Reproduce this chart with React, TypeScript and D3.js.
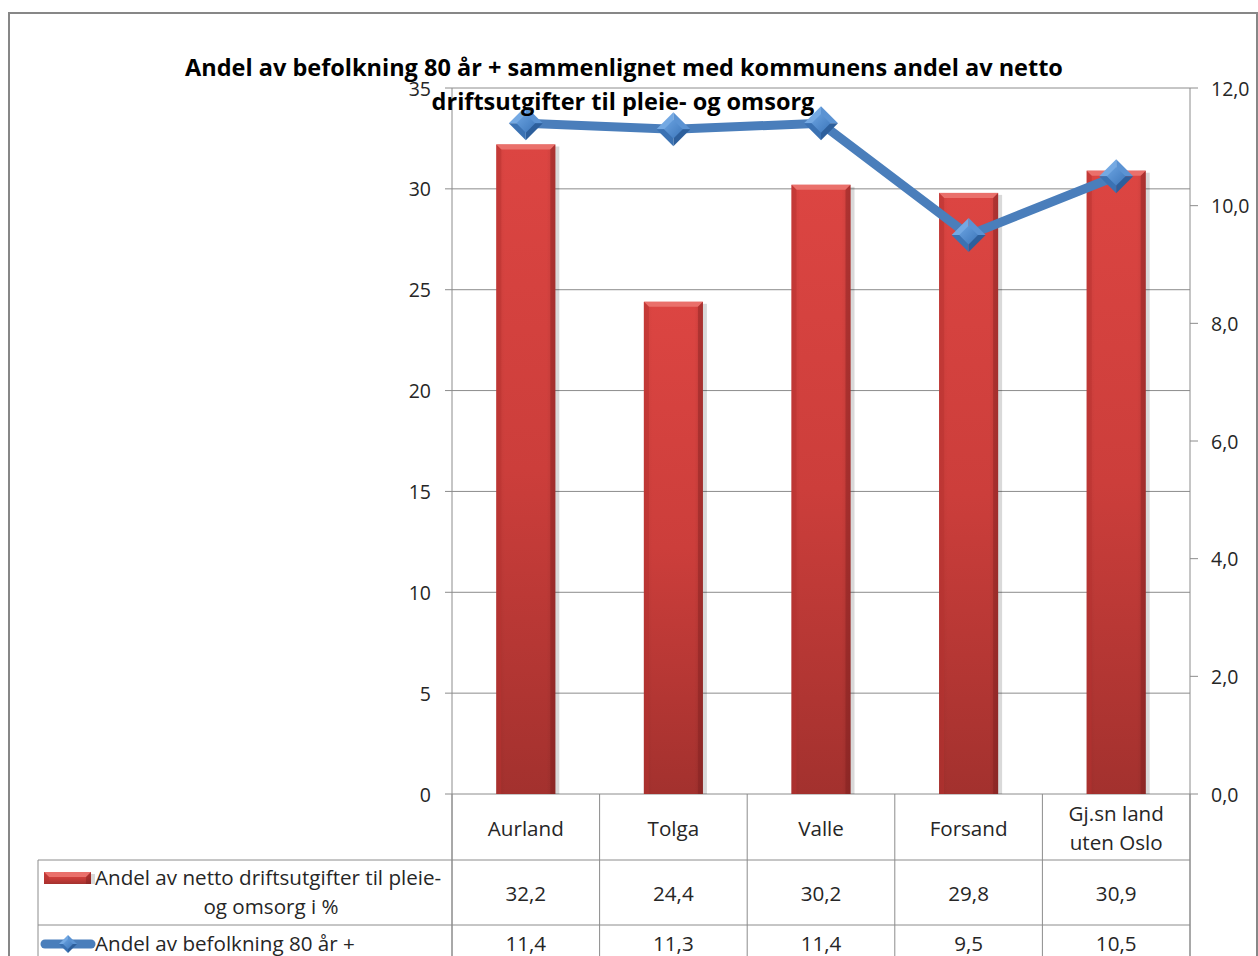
import React from "react";
import * as d3 from "d3";

const categories: string[][] = [["Aurland"], ["Tolga"], ["Valle"], ["Forsand"], ["Gj.sn land", "uten Oslo"]];
const expenseShare: number[] = [32.2, 24.4, 30.2, 29.8, 30.9];
const elderlyShare: number[] = [11.4, 11.3, 11.4, 9.5, 10.5];
const leftTicks: number[] = [0, 5, 10, 15, 20, 25, 30, 35];
const rightTicks: number[] = [0, 2, 4, 6, 8, 10, 12];
const titleLines: string[] = [
  "Andel av befolkning 80 år + sammenlignet med kommunens andel av netto",
  "driftsutgifter til pleie- og omsorg",
];
const seriesBarLabel: string[] = ["Andel av netto driftsutgifter til pleie-", "og omsorg i %"];
const seriesLineLabel = "Andel av befolkning 80 år +";

const W = 1258;
const H = 956;
const plot = { left: 452, right: 1190, top: 88, bottom: 794 };
const FONT = "'Open Sans', Lato, sans-serif";
const FS_AX = 19.5;
const FS = 20.6;
const GRID = "#8c8c8c";
const TXT = "#262626";
const fmt1 = (v: number) => d3.format(".1f")(v).replace(".", ",");

export default function App() {
  const x = d3
    .scaleBand<number>()
    .domain(d3.range(categories.length))
    .range([plot.left, plot.right])
    .paddingInner(0)
    .paddingOuter(0);
  const yL = d3.scaleLinear().domain([0, 35]).range([plot.bottom, plot.top]);
  const yR = d3.scaleLinear().domain([0, 12]).range([plot.bottom, plot.top]);
  const bw = x.bandwidth();
  const barW = bw * 0.4;
  const cx = (i: number) => (x(i) as number) + bw / 2;

  const line = d3
    .line<number>()
    .x((_, i) => cx(i))
    .y((d) => yR(d));

  const row1 = 860;
  const row2 = 925;
  const tableLeft = 38;

  const diamond = (px: number, py: number, r: number, key: string) => {
    const t = [px, py - r];
    const rt = [px + r, py];
    const b = [px, py + r];
    const l = [px - r, py];
    const c = [px, py];
    const tri = (a: number[], bb: number[], fill: string, k: string) => (
      <polygon key={k} points={`${a[0]},${a[1]} ${bb[0]},${bb[1]} ${c[0]},${c[1]}`} fill={fill} />
    );
    const ir = r * 0.55;
    return (
      <g key={key}>
        {tri(l, t, "#74a9e3", "a")}
        {tri(t, rt, "#5b93d3", "b")}
        {tri(rt, b, "#2d5f9c", "c")}
        {tri(b, l, "#3b72b3", "d")}
        <polygon
          points={`${px},${py - ir} ${px + ir},${py} ${px},${py + ir} ${px - ir},${py}`}
          fill="url(#diaGrad)"
        />
      </g>
    );
  };

  const bar = (bx: number, by: number, w: number, h: number, key: string) => {
    const bev = Math.min(5, h / 2);
    return (
      <g key={key}>
        <rect x={bx + 2} y={by + 2} width={w + 2} height={h - 2} fill="#000" opacity={0.15} />
        <rect x={bx} y={by} width={w} height={h} fill="url(#barGrad)" />
        <rect x={bx} y={by} width={w} height={h} fill="url(#barSide)" />
        <polygon
          points={`${bx},${by} ${bx + w},${by} ${bx + w - bev},${by + bev} ${bx + bev},${by + bev}`}
          fill="#ea706b"
        />
        <polygon
          points={`${bx},${by} ${bx + bev},${by + bev} ${bx + bev},${by + h} ${bx},${by + h}`}
          fill="#b8322f"
          opacity={0.5}
        />
        <polygon
          points={`${bx + w},${by} ${bx + w - bev},${by + bev} ${bx + w - bev},${by + h} ${bx + w},${by + h}`}
          fill="#7d1f1d"
          opacity={0.4}
        />
      </g>
    );
  };

  return (
    <svg
      width={W}
      height={H}
      style={{ position: "absolute", left: 0, top: 0, background: "#fff" }}
      fontFamily={FONT}
    >
      <defs>
        <linearGradient id="barGrad" x1="0" y1="0" x2="0" y2="1">
          <stop offset="0" stopColor="#dc4542" />
          <stop offset="0.5" stopColor="#cc3e3b" />
          <stop offset="1" stopColor="#a3312e" />
        </linearGradient>
        <linearGradient id="barSide" x1="0" y1="0" x2="1" y2="0">
          <stop offset="0" stopColor="#000" stopOpacity={0.06} />
          <stop offset="0.15" stopColor="#000" stopOpacity={0} />
          <stop offset="0.85" stopColor="#000" stopOpacity={0} />
          <stop offset="1" stopColor="#000" stopOpacity={0.1} />
        </linearGradient>
        <linearGradient id="diaGrad" x1="0" y1="0" x2="1" y2="1">
          <stop offset="0" stopColor="#6aa2e0" />
          <stop offset="1" stopColor="#3d77bb" />
        </linearGradient>
      </defs>
      <rect x={0} y={0} width={W} height={H} fill="#fff" />
      {/* outer border */}
      <rect x={9} y={13} width={1248} height={H + 20} fill="none" stroke="#878787" strokeWidth={2} />

      {/* gridlines */}
      {leftTicks.map((t) => (
        <line key={"g" + t} x1={plot.left - 7} x2={plot.right} y1={yL(t)} y2={yL(t)} stroke={GRID} strokeWidth={1} />
      ))}
      {/* left axis */}
      <line x1={plot.left} x2={plot.left} y1={plot.top} y2={H} stroke={GRID} />
      {leftTicks.map((t) => (
        <text key={"lt" + t} x={431} y={yL(t)} textAnchor="end" dominantBaseline="central" fontSize={FS_AX} fill={TXT}>
          {t}
        </text>
      ))}
      {/* right axis */}
      <line x1={plot.right} x2={plot.right} y1={plot.top} y2={H} stroke={GRID} />
      {rightTicks.map((t) => (
        <g key={"rt" + t}>
          <line x1={plot.right} x2={plot.right + 8} y1={yR(t)} y2={yR(t)} stroke={GRID} />
          <text x={1211} y={yR(t)} dominantBaseline="central" fontSize={FS_AX} fill={TXT}>
            {fmt1(t)}
          </text>
        </g>
      ))}

      {/* bars */}
      {expenseShare.map((v, i) => bar(cx(i) - barW / 2, yL(v), barW, yL(0) - yL(v), "b" + i))}

      {/* line */}
      <path d={line(elderlyShare) || ""} fill="none" stroke="#4a7ebb" strokeWidth={9} strokeLinejoin="round" />
      {elderlyShare.map((v, i) => diamond(cx(i), yR(v), 17, "d" + i))}

      {/* data table */}
      {d3.range(categories.length + 1).map((i) => {
        const xx = i < categories.length ? (x(i) as number) : plot.right;
        return <line key={"vl" + i} x1={xx} x2={xx} y1={plot.bottom} y2={H} stroke={GRID} />;
      })}
      <line x1={tableLeft} x2={plot.right} y1={row1} y2={row1} stroke={GRID} />
      <line x1={tableLeft} x2={plot.right} y1={row2} y2={row2} stroke={GRID} />
      <line x1={tableLeft} x2={tableLeft} y1={row1} y2={H} stroke={GRID} />

      {categories.map((lines, i) => (
        <text key={"c" + i} x={cx(i)} textAnchor="middle" fontSize={FS} fill={TXT}>
          {lines.map((s, j) => (
            <tspan
              key={j}
              x={cx(i)}
              y={lines.length === 1 ? 828 : 813 + j * 29}
              dominantBaseline="central"
            >
              {s}
            </tspan>
          ))}
        </text>
      ))}
      {expenseShare.map((v, i) => (
        <text key={"ev" + i} x={cx(i)} y={893} textAnchor="middle" dominantBaseline="central" fontSize={FS} fill={TXT}>
          {fmt1(v)}
        </text>
      ))}
      {elderlyShare.map((v, i) => (
        <text key={"lv" + i} x={cx(i)} y={943} textAnchor="middle" dominantBaseline="central" fontSize={FS} fill={TXT}>
          {fmt1(v)}
        </text>
      ))}

      {/* legend keys in table */}
      {bar(44, 872, 47, 12, "legbar")}
      <text x={95} y={877} dominantBaseline="central" fontSize={FS} fill={TXT}>
        {seriesBarLabel[0]}
      </text>
      <text x={271} y={906} textAnchor="middle" dominantBaseline="central" fontSize={FS} fill={TXT}>
        {seriesBarLabel[1]}
      </text>
      <line x1={45} x2={91} y1={944} y2={944} stroke="#4a7ebb" strokeWidth={9} strokeLinecap="round" />
      {diamond(68, 944, 9, "legdia")}
      <text x={95} y={943} dominantBaseline="central" fontSize={FS} fill={TXT}>
        {seriesLineLabel}
      </text>

      {/* title */}
      <text x={624} y={67} textAnchor="middle" dominantBaseline="central" fontSize={23.5} fontWeight="bold" fill="#000">
        {titleLines[0]}
      </text>
      <text x={623} y={101} textAnchor="middle" dominantBaseline="central" fontSize={23.5} fontWeight="bold" fill="#000">
        {titleLines[1]}
      </text>
    </svg>
  );
}
